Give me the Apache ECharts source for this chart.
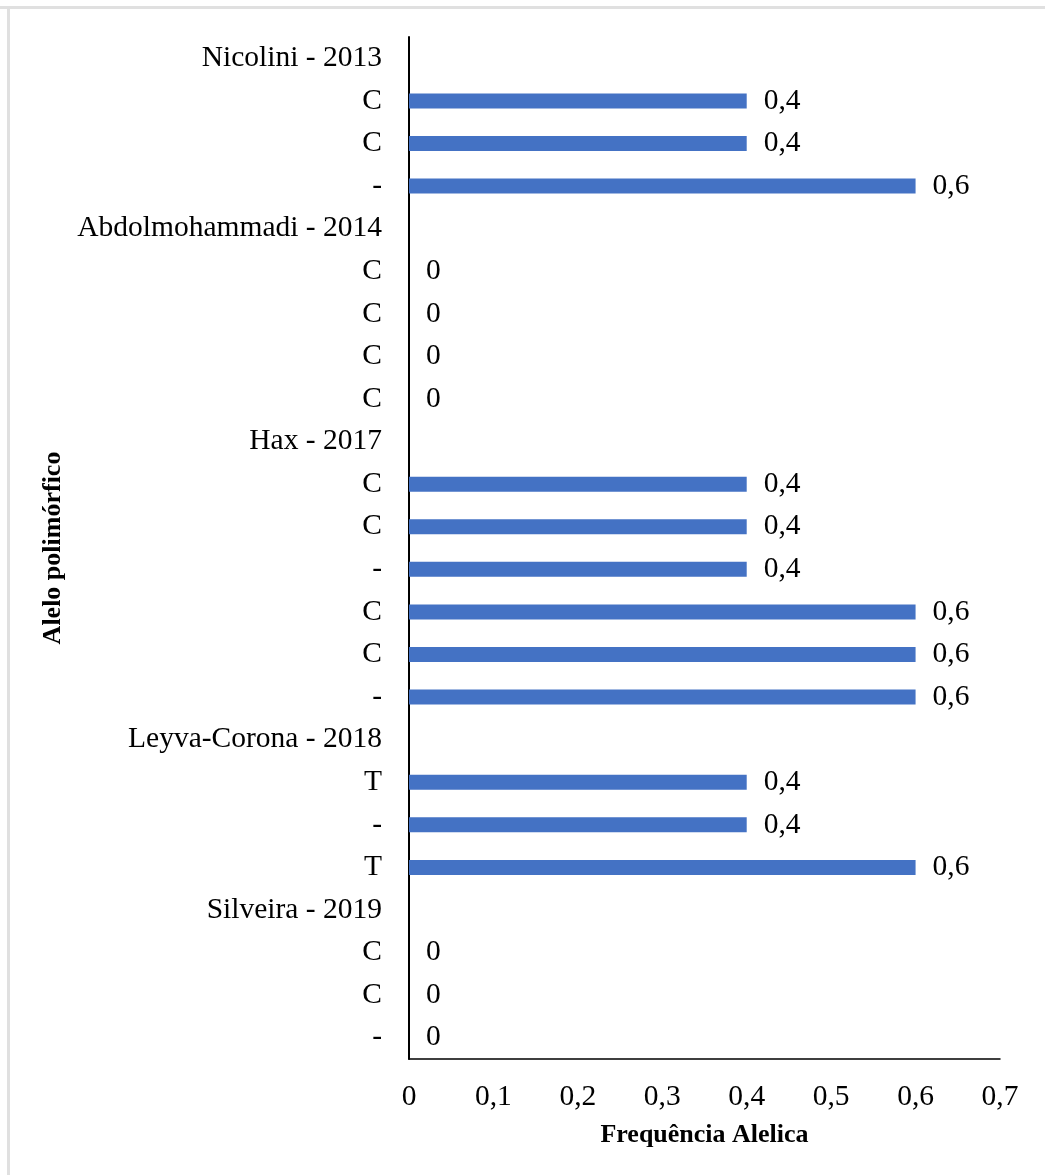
<!DOCTYPE html>
<html>
<head>
<meta charset="utf-8">
<script src="https://cdn.jsdelivr.net/npm/echarts@6/dist/echarts.min.js"></script>
<style>
  html, body { margin: 0; padding: 0; background: #fff; }
  #chart { width: 1045px; height: 1175px; }
</style>
</head>
<body>
<div id="chart"></div>
<script>
// Category labels, top to bottom
const categoryLabels = [
  'Nicolini - 2013', 'C', 'C', '-',
  'Abdolmohammadi - 2014', 'C', 'C', 'C', 'C',
  'Hax - 2017', 'C', 'C', '-', 'C', 'C', '-',
  'Leyva-Corona - 2018', 'T', '-', 'T',
  'Silveira - 2019', 'C', 'C', '-'
];
// Allele frequencies (null = study header row, no bar)
const frequencies = [
  null, 0.4, 0.4, 0.6,
  null, 0, 0, 0, 0,
  null, 0.4, 0.4, 0.4, 0.6, 0.6, 0.6,
  null, 0.4, 0.4, 0.6,
  null, 0, 0, 0
];
const xTicks = [0, 0.1, 0.2, 0.3, 0.4, 0.5, 0.6, 0.7];
const xTitle = 'Frequência Alelica';
const yTitle = 'Alelo polimórfico';

const FONT = '"Liberation Serif", "Times New Roman", serif';
const fmt = v => String(v).replace('.', ',');
const categoryKeys = categoryLabels.map((_, i) => String(i));

const chart = echarts.init(document.getElementById('chart'), null, { renderer: 'canvas' });
chart.setOption({
  animation: false,
  backgroundColor: '#ffffff',
  textStyle: { fontFamily: FONT, color: '#000' },
  grid: { left: 409, right: 45, top: 37, bottom: 116, containLabel: false },
  xAxis: {
    type: 'value',
    min: xTicks[0],
    max: xTicks[xTicks.length - 1],
    interval: 0.1,
    splitLine: { show: false },
    axisTick: { show: false },
    axisLine: { show: true, lineStyle: { color: '#000', width: 1.5 } },
    axisLabel: {
      fontFamily: FONT, fontSize: 29.5, color: '#000', margin: 23,
      formatter: v => fmt(Math.round(v * 10) / 10)
    },
    name: xTitle,
    nameLocation: 'middle',
    nameGap: 63,
    nameTextStyle: { fontFamily: FONT, fontSize: 26, fontWeight: 'bold', color: '#000' }
  },
  yAxis: {
    type: 'category',
    data: categoryKeys,
    inverse: true,
    axisTick: { show: false },
    axisLine: { show: true, lineStyle: { color: '#000', width: 2 } },
    axisLabel: {
      fontFamily: FONT, fontSize: 29.5, color: '#000', margin: 27,
      interval: 0,
      formatter: (v) => categoryLabels[Number(v)]
    },
    name: yTitle,
    nameLocation: 'middle',
    nameGap: 340,
    nameRotate: 90,
    nameTextStyle: { fontFamily: FONT, fontSize: 26, fontWeight: 'bold', color: '#000' }
  },
  series: [{
    type: 'bar',
    data: frequencies,
    barWidth: 15,
    itemStyle: { color: '#4472C4' },
    label: {
      show: true,
      position: 'right',
      distance: 17,
      fontFamily: FONT,
      fontSize: 29.5,
      color: '#000',
      formatter: p => (p.value === null || p.value === undefined) ? '' : fmt(p.value)
    }
  }],
  graphic: [
    { type: 'line', shape: { x1: 0, y1: 7.5, x2: 1045, y2: 7.5 }, style: { stroke: '#e0e0e0', lineWidth: 3 }, silent: true },
    { type: 'line', shape: { x1: 8.5, y1: 6, x2: 8.5, y2: 1175 }, style: { stroke: '#e0e0e0', lineWidth: 3 }, silent: true }
  ]
});
</script>
</body>
</html>
